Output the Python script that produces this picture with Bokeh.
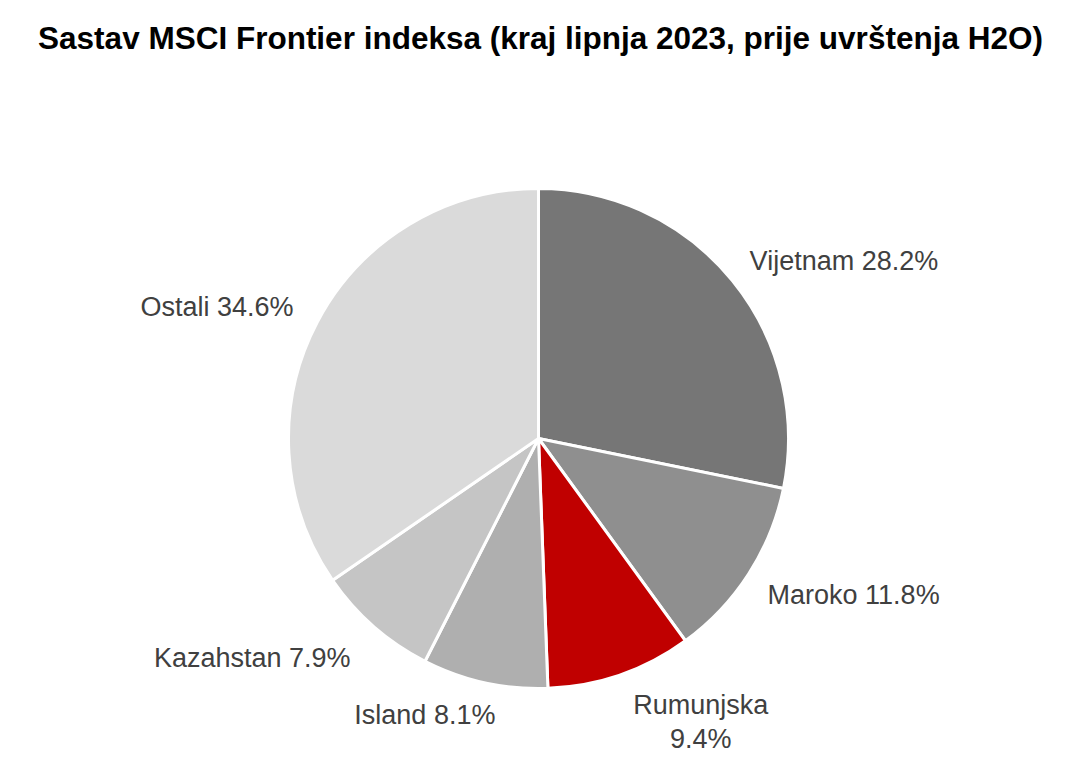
import math
from bokeh.plotting import figure
from bokeh.models import Range1d, ColumnDataSource
from bokeh.core.properties import value
from bokeh.embed import file_html
from bokeh.resources import INLINE

# ---- data ----
countries = ["Vijetnam", "Maroko", "Rumunjska", "Island", "Kazahstan", "Ostali"]
shares = [28.2, 11.8, 9.4, 8.1, 7.9, 34.6]
colors = ["#767676", "#8f8f8f", "#c00000", "#afafaf", "#c5c5c5", "#dadada"]
title_text = "Sastav MSCI Frontier indeksa (kraj lipnja 2023, prije uvrštenja H2O)"

# ---- layout (screen-pixel based helpers) ----
W, H = 1064, 760
def sy(y):  # screen y -> data y
    return H - y

cx, cy, R = 538, sy(438), 250

total = sum(shares)
starts, ends, mids = [], [], []
cum = 0.0
for s in shares:
    a0 = math.pi / 2 - 2 * math.pi * cum / total
    cum += s
    a1 = math.pi / 2 - 2 * math.pi * cum / total
    starts.append(a0)
    ends.append(a1)
    mids.append((a0 + a1) / 2)

src = ColumnDataSource(dict(start=starts, end=ends, color=colors))

p = figure(width=W, height=H, x_range=Range1d(0, W), y_range=Range1d(0, H),
           output_backend="svg", toolbar_location=None, min_border=0)
p.axis.visible = False
p.grid.visible = False
p.outline_line_color = None

p.wedge(x=cx, y=cy, radius=R, start_angle="start", end_angle="end", direction="clock",
        fill_color="color", line_color="white", line_width=3, source=src)

# labels: anchored on the slice's mid-angle ray, with per-label nudges
label_r = 270
nudges = [  # dx, dy(screen), align, baseline
    (2, -7, "left", "middle"),
    (2, 10, "left", "middle"),
    (74, -4, "center", "top"),
    (15, 13, "right", "middle"),
    (-10, 16, "right", "middle"),
    (-6, -6, "right", "middle"),
]
for name, s, m, (dx, dy, al, bl) in zip(countries, shares, mids, nudges):
    ax = cx + label_r * math.cos(m) + dx
    ay = cy + label_r * math.sin(m) - dy
    txt = f"{name} {s:.1f}%" if name != "Rumunjska" else f"{name}\n{s:.1f}%"
    p.text(x=[ax], y=[ay], text=[txt], text_align=al, text_baseline=bl,
           text_font=value("Liberation Sans"), text_font_size="27px",
           text_color="#404040", text_line_height=1.15)

p.text(x=[540], y=[sy(37)], text=[title_text], text_align="center", text_baseline="middle",
       text_font=value("Liberation Sans"), text_font_style="bold",
       text_font_size="31.5px", text_color="#000000")

open("out.html", "w").write(file_html(p, INLINE))
